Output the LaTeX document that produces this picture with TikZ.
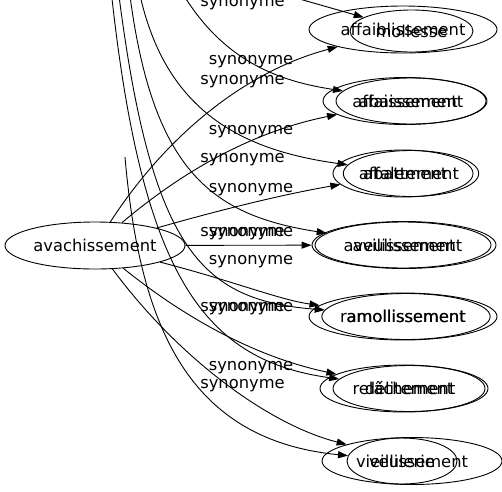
\documentclass[tikz,border=0pt]{standalone}
\usepackage{fontspec}
\setmainfont{DejaVu Sans}
\usetikzlibrary{shapes.geometric,arrows.meta}
\begin{document}
\begin{tikzpicture}[x=1pt,y=-1pt,
  every node/.style={font=\fontsize{16.3}{18}\selectfont},
  ell/.style={draw, ellipse, inner sep=0pt, line width=0.9pt},
  lbl/.style={inner sep=0pt},
  edge/.style={line width=0.9pt, -{Triangle[length=10pt,width=7pt]}}]
\useasboundingbox (0,0) rectangle (502,491);
\clip (0,0) rectangle (502,491);

% source
\node[ell, minimum width=180pt, minimum height=47pt] (src) at (95,245.5) {avachissement};

% targets, first graph
\node[ell, minimum width=188pt, minimum height=47pt] (A1) at (403,29.5) {affaiblissement};
\node[ell, minimum width=164pt, minimum height=47pt] (A2) at (405,101) {affaissement};
\node[ell, minimum width=140pt, minimum height=47pt] (A3) at (403,173.5) {affalement};
\node[ell, minimum width=184pt, minimum height=47pt] (A4) at (404,245) {avilissement};
\node[ell, minimum width=188pt, minimum height=47pt] (A5) at (403,316.5) {ramollissement};
\node[ell, minimum width=168pt, minimum height=47pt] (A6) at (404,388.5) {relâchement};
\node[ell, minimum width=180pt, minimum height=47pt] (A7) at (412,461) {vieillissement};

% targets, second graph
\node[ell, minimum width=123pt, minimum height=42pt] (B1) at (411.5,31) {mollesse};
\node[ell, minimum width=150pt, minimum height=46pt] (B2) at (411,101) {abaissement};
\node[ell, minimum width=128pt, minimum height=46pt] (B3) at (411,173.5) {abattement};
\node[ell, minimum width=176pt, minimum height=46pt] (B4) at (403,245) {aveulissement};
\node[ell, minimum width=162pt, minimum height=46pt] (B5) at (406,316.5) {amollissement};
\node[ell, minimum width=152pt, minimum height=46pt] (B6) at (409,388.5) {délitement};
\node[ell, minimum width=110pt, minimum height=46pt] (B7) at (402,461) {veulerie};

% free ends of the second graph's edges
\coordinate (sB1) at (240,-18);
\coordinate (sB2) at (175,-20);
\coordinate (sB3) at (137,-20);
\coordinate (sB4) at (128,-20);
\coordinate (sB5) at (117,-20);
\coordinate (sB6) at (110,-20);
\coordinate (sB7) at (125,157);

% edges of the first graph
\draw[edge] (src) .. controls (170,130) and (250,70) .. (A1);
\draw[edge] (src) .. controls (190,165) and (260,130) .. (A2);
\draw[edge] (src) .. controls (220,210) and (280,195) .. (A3);
\draw[edge] (src) -- (A4);
\draw[edge] (src) .. controls (230,280) and (280,300) .. (A5);
\draw[edge] (src) .. controls (200,330) and (270,360) .. (A6);
\draw[edge] (src) .. controls (180,360) and (270,425) .. (A7);

% edges of the second graph
\draw[edge] (sB1) -- (B1);
\draw[edge] (sB2) .. controls (215,55) and (270,80) .. (B2);
\draw[edge] (sB3) .. controls (160,110) and (240,150) .. (B3);
\draw[edge] (sB4) .. controls (150,170) and (210,215) .. (B4);
\draw[edge] (sB5) .. controls (150,250) and (200,300) .. (B5);
\draw[edge] (sB6) .. controls (140,270) and (200,360) .. (B6);
\draw[edge] (sB7) .. controls (140,330) and (190,440) .. (B7);

% labels
\node[lbl] (l1) at (242.5,4) {synonyme};
\node[lbl] (l2) at (251,61.5) {synonyme};
\node[lbl] (l3) at (242.5,81.5) {synonyme};
\node[lbl] (l4) at (251,131.5) {synonyme};
\node[lbl] (l5) at (242.5,160) {synonyme};
\node[lbl] (l6) at (251,190) {synonyme};
\node[lbl] (l7) at (242.5,234) {synonyme};
\node[lbl] (l8) at (251,234) {synonyme};
\node[lbl] (l9) at (251,261.5) {synonyme};
\node[lbl] (l10) at (242.5,308.5) {synonyme};
\node[lbl] (l11) at (251,308.5) {synonyme};
\node[lbl] (l12) at (251,367.5) {synonyme};
\node[lbl] (l13) at (242.5,386) {synonyme};
\end{tikzpicture}
\end{document}
